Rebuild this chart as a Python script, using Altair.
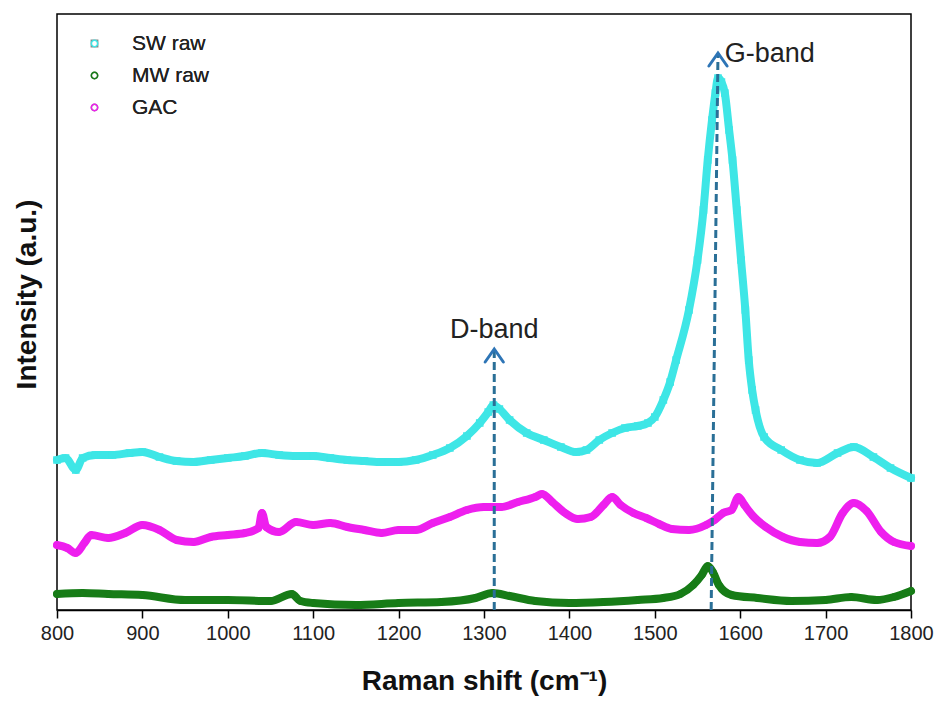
import altair as alt
import pandas as pd

# ---- data (x: Raman shift, y: intensity in arbitrary units) ----
sw_x = [800, 810, 822, 830, 845, 865, 885, 900, 920, 940, 960, 980, 1000, 1020, 1040, 1060, 1080,
        1100, 1120, 1140, 1160, 1180, 1200, 1220, 1240, 1260, 1280, 1295, 1305, 1311, 1318, 1330,
        1350, 1370, 1390, 1408, 1420, 1435, 1450, 1465, 1480, 1492, 1500, 1510, 1518, 1525, 1540,
        1550, 1557, 1562, 1567, 1571, 1574, 1578, 1582, 1587, 1591, 1596, 1601, 1606, 1610, 1614,
        1618, 1628, 1648, 1670, 1690, 1714, 1733, 1756, 1776, 1800]
sw_y = [150, 152, 140, 152, 155, 155, 157, 158, 153, 149, 148, 150, 152, 154, 157, 155, 154,
        154, 152, 150, 149, 148, 148, 150, 155, 162, 174, 187, 198, 205, 201, 190,
        177, 170, 163, 158, 160, 170, 177, 182, 184, 187, 193, 210, 228, 250, 300,
        350, 400, 450, 490, 517, 532, 528, 517, 480, 450, 400, 350, 300, 250, 220,
        200, 173, 160, 150, 147, 157, 163, 153, 142, 132]

mw_x = [800, 830, 860, 900, 950, 1000, 1050, 1075, 1085, 1100, 1150, 1200, 1250, 1290, 1310, 1330,
        1360, 1400, 1440, 1480, 1510, 1530, 1545, 1555, 1562, 1568, 1575, 1590, 1620, 1660, 1700,
        1730, 1760, 1780, 1800]
mw_y = [16, 17, 16, 15, 10, 10, 9, 16, 9, 7, 5, 7, 8, 12, 17, 14,
        9, 7, 8, 10, 12, 16, 25, 35, 44, 38, 25, 15, 12, 9, 10,
        13, 10, 13, 19]

gac_x = [800, 812, 822, 832, 840, 860, 880, 900, 920, 940, 960, 980, 1000, 1020, 1036, 1040, 1045,
         1060, 1080, 1100, 1120, 1140, 1160, 1180, 1200, 1220, 1240, 1260, 1280, 1300, 1320, 1340,
         1360, 1368, 1380, 1395, 1410, 1425, 1440, 1450, 1460, 1475, 1490, 1505, 1520, 1540, 1560,
         1570, 1580, 1590, 1598, 1605, 1615, 1630, 1650, 1670, 1690, 1705, 1720, 1733, 1748, 1765,
         1780, 1800]
gac_y = [65, 62, 57, 67, 75, 72, 77, 85, 80, 70, 68, 73, 75, 77, 82, 97, 83,
         78, 88, 85, 87, 83, 80, 77, 80, 80, 87, 93, 100, 103, 103, 108,
         113, 116, 108, 97, 91, 93, 105, 113, 105, 97, 92, 86, 81, 80, 85,
         90, 97, 100, 113, 105, 94, 83, 73, 68, 67, 73, 97, 107, 99, 78,
         68, 64]

series_names = ["SW raw", "MW raw", "GAC"]
series_colors = ["#3ee6e6", "#177c17", "#ee1fee"]
series_shapes = ["square", "circle", "circle"]

x_ticks = [800, 900, 1000, 1100, 1200, 1300, 1400, 1500, 1600, 1700, 1800]

# band annotations
band_labels = ["D-band", "G-band"]
band_x_bottom = [1312, 1566]
band_x_top = [1312, 1574]
band_y_top = [261, 557]
band_label_x = [1312, 1582]
band_label_y = [272, 548]

# ---- build tables ----
rows = []
for name, xs, ys in [("SW raw", sw_x, sw_y), ("MW raw", mw_x, mw_y), ("GAC", gac_x, gac_y)]:
    for i, (a, b) in enumerate(zip(xs, ys)):
        rows.append({"series": name, "shift": a, "intensity": b, "order": i})
df = pd.DataFrame(rows)

bands = pd.DataFrame({
    "label": band_labels,
    "xb": band_x_bottom,
    "xt": band_x_top,
    "y0": [0, 0],
    "yt": band_y_top,
    "lx": band_label_x,
    "ly": band_label_y,
})

FONT = "Liberation Sans, Arial, sans-serif"

xscale = alt.Scale(domain=[800, 1800], nice=False, zero=False)
yscale = alt.Scale(domain=[0, 596], nice=False, zero=False)

X = alt.X("shift:Q", scale=xscale,
          axis=alt.Axis(values=x_ticks, format="d", title="Raman shift (cm⁻¹)", grid=False,
                        tickSize=8, tickWidth=1.5, tickColor="#000",
                        domainColor="#000", domainWidth=1.5,
                        labelFont=FONT, labelFontSize=20, labelColor="#222", labelPadding=5,
                        titleFont=FONT, titleFontSize=28, titleFontWeight="bold",
                        titleColor="#111", titlePadding=24, labelFlush=False))
Y = alt.Y("intensity:Q", scale=yscale,
          axis=alt.Axis(labels=False, ticks=False, domain=False, grid=False,
                        title="Intensity (a.u.)", titleFont=FONT, titleFontSize=28,
                        titleFontWeight="bold", titleColor="#111",
                        titleX=-30, titleY=280, titleBaseline="middle", titleAngle=-90))

lines = alt.Chart(df).mark_line(strokeWidth=8, strokeCap="round", strokeJoin="round",
                                interpolate="monotone").encode(
    x=X, y=Y,
    color=alt.Color("series:N", scale=alt.Scale(domain=series_names, range=series_colors),
                    legend=None),
    detail="series:N",
    order="order:Q",
)

legend = alt.Legend(title=None, orient="none", legendX=27, legendY=19,
                    labelFont=FONT, labelFontSize=21, labelColor="#222",
                    labelOffset=27, symbolSize=40, symbolStrokeWidth=1.5,
                    rowPadding=10, padding=0, symbolFillColor="transparent")

points = alt.Chart(df).mark_point(filled=False, size=40, strokeWidth=1.3, opacity=1).encode(
    x="shift:Q", y="intensity:Q",
    color=alt.Color("series:N", scale=alt.Scale(domain=series_names, range=series_colors),
                    legend=legend),
    shape=alt.Shape("series:N", scale=alt.Scale(domain=series_names, range=series_shapes),
                    legend=legend),
)

rules = alt.Chart(bands).mark_rule(color="#2a6f97", strokeWidth=3, strokeDash=[8, 4]).encode(
    x="xb:Q", x2="xt:Q", y="y0:Q", y2="yt:Q"
)

heads = alt.Chart(bands).mark_point(
    shape="M-0.7,1L0,0L0.7,1", size=676, filled=False, strokeWidth=3,
    color="#2e75b6", opacity=1, strokeCap="round", strokeJoin="miter"
).encode(x="xt:Q", y="yt:Q")

texts_d = alt.Chart(bands.iloc[[0]]).mark_text(
    font=FONT, fontSize=27, color="#222", align="center", baseline="alphabetic"
).encode(x="lx:Q", y="ly:Q", text="label:N")
texts_g = alt.Chart(bands.iloc[[1]]).mark_text(
    font=FONT, fontSize=27, color="#222", align="left", baseline="alphabetic"
).encode(x="lx:Q", y="ly:Q", text="label:N")

chart = alt.layer(lines, points, rules, heads, texts_d, texts_g).resolve_scale(
    color="independent"
).properties(
    width=854, height=596,
    padding={"left": 57, "top": 14, "right": 30, "bottom": 94},
    autosize=alt.AutoSizeParams(type="none"),
    background="white",
).configure_view(stroke="#000", strokeWidth=1.5)

chart.save("out.html", embed_options={"renderer": "svg", "actions": False})
